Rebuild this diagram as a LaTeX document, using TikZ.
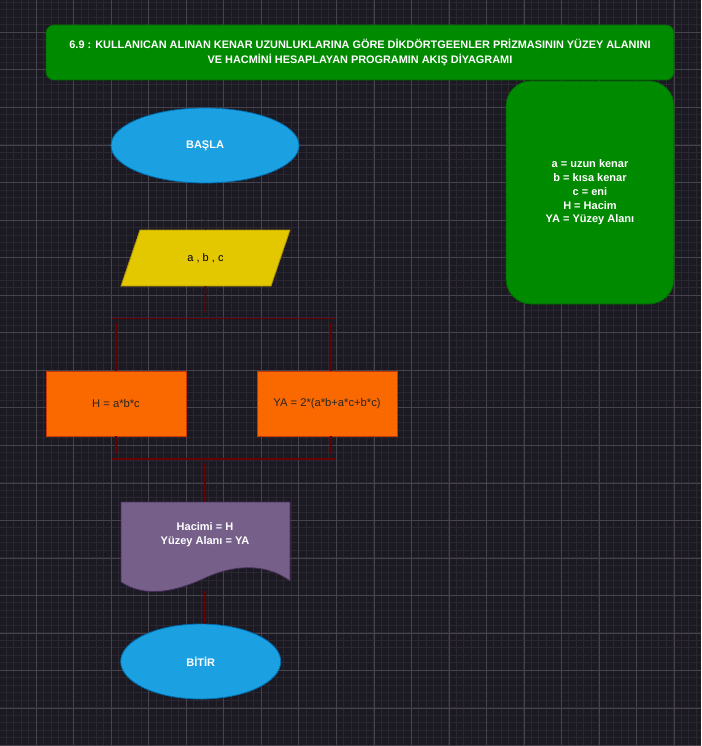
\documentclass[tikz,border=0pt]{standalone}
\usepackage{fontspec}
\setmainfont{Liberation Sans}
\usetikzlibrary{shapes.geometric}
\definecolor{bgc}{HTML}{1B1922}
\definecolor{minorc}{HTML}{2A2731}
\definecolor{majorc}{HTML}{46434C}
\definecolor{titlegreen}{HTML}{008A00}
\definecolor{titleborder}{HTML}{006600}
\definecolor{termfill}{HTML}{1BA1E2}
\definecolor{termborder}{HTML}{006EAF}
\definecolor{iofill}{HTML}{E3C800}
\definecolor{ioborder}{HTML}{B09500}
\definecolor{procfill}{HTML}{FA6800}
\definecolor{procborder}{HTML}{C73500}
\definecolor{docfill}{HTML}{76608A}
\definecolor{docborder}{HTML}{432D57}
\definecolor{linkc}{HTML}{660000}
\tikzset{
  terminal/.style={ellipse, fill=termfill, draw=termborder, line width=0.8pt,
    text=white, font=\bfseries\fontsize{11}{13}\selectfont, inner sep=0pt},
  procbox/.style={rectangle, fill=procfill, draw=procborder, line width=0.8pt,
    text=black!85, font=\fontsize{11.2}{13}\selectfont, minimum width=140pt, minimum height=65pt, inner sep=0pt},
  greenbox/.style={rectangle, fill=titlegreen, draw=titleborder, line width=0.8pt,
    text=white, font=\bfseries\fontsize{10.9}{14.2}\selectfont, align=center, inner sep=0pt},
  link/.style={draw=linkc, line width=1.5pt},
}
\begin{document}
\begin{tikzpicture}[x=1pt,y=-1pt]
\fill[bgc] (0,0) rectangle (701,746);
\useasboundingbox (0,0) rectangle (701,746);
% grid
\foreach \i in {0,...,93} {\draw[minorc, line width=0.6pt] ({6+7.5*\i},0) -- ({6+7.5*\i},746);}
\foreach \i in {0,...,99} {\draw[minorc, line width=0.6pt] (0,{2.3+7.5*\i}) -- (701,{2.3+7.5*\i});}
\foreach \i in {0,...,18} {\draw[majorc, line width=0.8pt] ({36+37.55*\i},0) -- ({36+37.55*\i},746);}
\foreach \i in {0,...,19} {\draw[majorc, line width=0.8pt] (0,{32.3+37.55*\i}) -- (701,{32.3+37.55*\i});}

% title
\node[greenbox, rounded corners=8pt, minimum width=628pt, minimum height=55pt] (title) at (360,52.5)
  {6.9 : KULLANICAN ALINAN KENAR UZUNLUKLARINA GÖRE DİKDÖRTGEENLER PRİZMASININ YÜZEY ALANINI\\VE HACMİNİ HESAPLAYAN PROGRAMIN AKIŞ DİYAGRAMI};
% legend
\node[greenbox, rounded corners=25pt, minimum width=168pt, minimum height=223pt,
  font=\bfseries\fontsize{11}{13.8}\selectfont] (legend) at (590,192.5)
  {a = uzun kenar\\b = kısa kenar\\c = eni\\H = Hacim\\YA = Yüzey Alanı};

% start
\node[terminal, minimum width=188pt, minimum height=75pt] (start) at (205,145.5) {BAŞLA};

% input parallelogram
\node[minimum width=150pt, minimum height=56pt, inner sep=0pt] (input) at (205.5,258) {};
\draw[fill=iofill, draw=ioborder, line width=0.8pt] (140,230) -- (290,230) -- (271,286) -- (121,286) -- cycle;
\node[font=\fontsize{11}{13}\selectfont, text=black] (inputtext) at (input.center) {a , b , c};

% process boxes
\node[procbox] (hbox) at (116,403.5) {H = a*b*c};
\node[procbox] (yabox) at (327,403.5) {YA = 2*(a*b+a*c+b*c)};

% document
\coordinate (doctop) at (205,502);
\coordinate (docbot) at (205,590);
\draw[fill=docfill, draw=docborder, line width=0.8pt]
  (121,502) -- (290,502) -- (290,581)
  .. controls (270,566) and (240,562) .. (205,578)
  .. controls (175,592) and (145,598) .. (121,582) -- cycle;
\node[text=white, font=\bfseries\fontsize{11}{13.8}\selectfont, align=center] (doc) at (205,535)
  {Hacimi = H\\Yüzey Alanı = YA};

% end
\node[terminal, minimum width=160pt, minimum height=75pt] (stop) at (200.7,661.5) {BİTİR};

% fork / join bars
\coordinate (forkL) at (112,318.3);
\coordinate (forkR) at (335,318.3);
\coordinate (joinL) at (112,459);
\coordinate (joinR) at (335,459);

% connectors
\draw[link] (start.south -| input.north) -- (input.north);
\draw[link] (input.south) -- (205,313);
\draw[link] (forkL) -- (forkR);
\draw[link] (116,323) -- (hbox.north);
\draw[link] (331,323) -- (331,371);
\draw[link] (hbox.south) -- (116,454);
\draw[link] (331,436) -- (331,454);
\draw[link] (joinL) -- (joinR);
\draw[link] (205,463) -- (doctop);
\draw[link] (205,591) -- (205,624);
\end{tikzpicture}
\end{document}
